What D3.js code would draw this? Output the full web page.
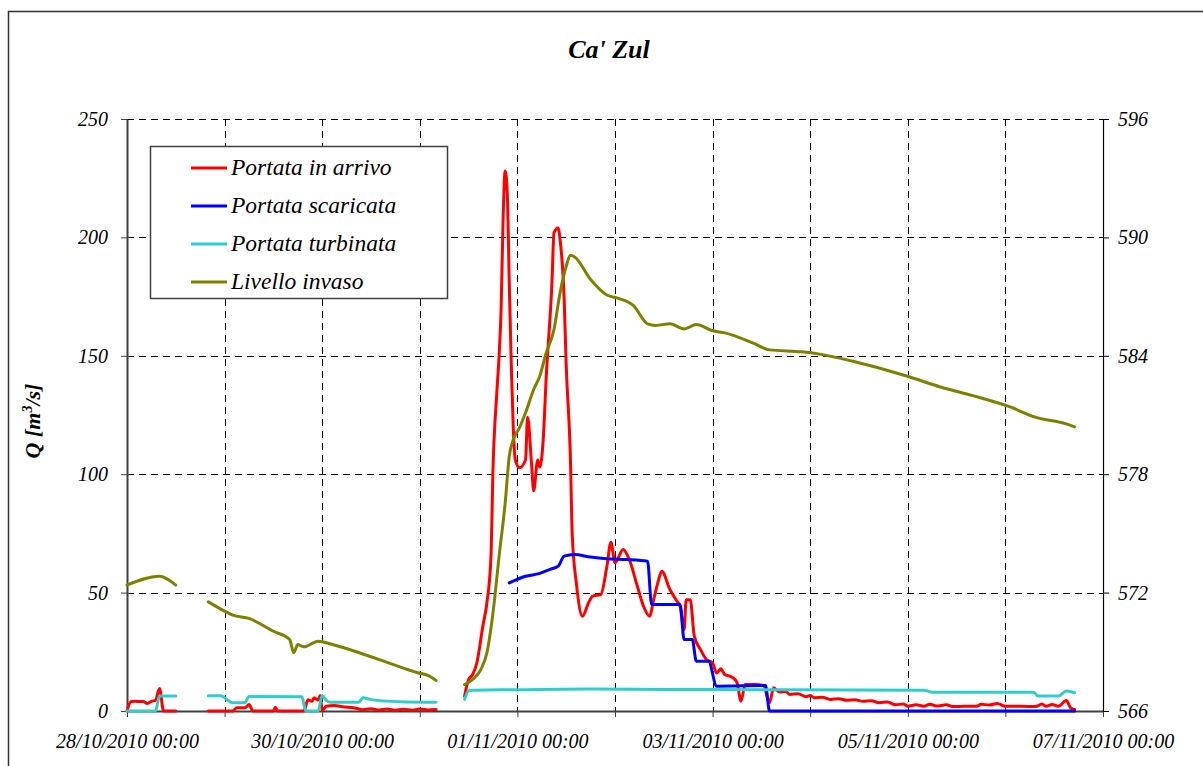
<!DOCTYPE html>
<html>
<head>
<meta charset="utf-8">
<script src="https://cdn.jsdelivr.net/npm/d3@7"></script>
<style>
  html, body { margin: 0; padding: 0; background: #fff; }
  svg { display: block; font-family: "Liberation Serif", "Times New Roman", serif; }
</style>
</head>
<body>
<div id="chart"></div>
<script>
// 0. data (time "MM-DD HH:MM" of 2010, value) ; null = gap in the record
const portataArrivo = [
  ["10-28 00:00", 0], ["10-28 01:00", 4.0], ["10-28 02:00", 4.1], ["10-28 03:00", 4.0], ["10-28 04:00", 4.0],
  ["10-28 05:00", 3.2], ["10-28 06:00", 4.1], ["10-28 07:00", 4.5], ["10-28 08:00", 9.5], ["10-28 09:00", 0],
  ["10-28 12:00", 0], ["10-28 16:00", null],
  ["10-28 20:00", 0], ["10-29 02:00", 0], ["10-29 03:00", 1.4], ["10-29 05:00", 1.4], ["10-29 06:00", 2.7],
  ["10-29 07:00", 0], ["10-29 12:00", 0], ["10-29 12:30", 1.6], ["10-29 13:00", 0], ["10-29 19:30", 0],
  ["10-29 20:30", 4.8], ["10-29 21:30", 4.1], ["10-29 22:00", 5.6], ["10-29 23:00", 4.6], ["10-29 23:30", 6.5],
  ["10-30 00:00", 0.2], ["10-30 01:00", 2.0], ["10-30 03:00", 2.3], ["10-30 05:00", 1.8], ["10-30 08:00", 1.3],
  ["10-30 10:00", 0.5], ["10-30 12:00", 0.9], ["10-30 14:00", 0.4], ["10-30 16:00", 0.8], ["10-30 18:00", 0.3],
  ["10-30 20:00", 0.7], ["10-30 22:00", 0.3], ["10-31 00:00", 0.8], ["10-31 02:00", 0.4], ["10-31 04:00", 0.6],
  ["10-31 07:00", null],
  ["10-31 11:00", 6.2], ["10-31 12:00", 13.3], ["10-31 13:00", 15.4], ["10-31 14:00", 20.1], ["10-31 15:30", 35.8],
  ["10-31 16:30", 45.6], ["10-31 17:30", 65.2], ["10-31 18:00", 102], ["10-31 19:00", 136], ["10-31 19:30", 150],
  ["10-31 20:00", 170], ["10-31 20:30", 209], ["10-31 21:00", 228], ["10-31 21:30", 219], ["10-31 22:00", 181],
  ["10-31 22:30", 146], ["10-31 23:00", 119], ["10-31 23:30", 106], ["11-01 00:30", 102.7], ["11-01 02:00", 106],
  ["11-01 02:30", 124], ["11-01 03:30", 104], ["11-01 04:00", 93], ["11-01 05:00", 106], ["11-01 05:30", 103],
  ["11-01 06:30", 119], ["11-01 07:00", 138], ["11-01 08:30", 181], ["11-01 09:00", 202], ["11-01 10:00", 204],
  ["11-01 10:30", 199], ["11-01 11:30", 174], ["11-01 12:00", 146], ["11-01 13:00", 109], ["11-01 13:30", 74],
  ["11-01 14:30", 54], ["11-01 16:00", 40], ["11-01 17:30", 45.7], ["11-01 18:30", 48.5], ["11-01 20:30", 49.2],
  ["11-01 22:00", 61], ["11-01 23:00", 71.3], ["11-02 00:00", 62.6], ["11-02 02:00", 68.2], ["11-02 03:30", 64],
  ["11-02 05:30", 52.7], ["11-02 07:00", 44.3], ["11-02 08:30", 40], ["11-02 09:30", 47], ["11-02 10:30", 54],
  ["11-02 11:30", 59], ["11-02 13:30", 51.3], ["11-02 15:00", 47], ["11-02 16:00", 44.3], ["11-02 17:00", 34.4],
  ["11-02 17:30", 47], ["11-02 18:30", 47], ["11-02 19:30", 31.6], ["11-02 21:00", 26], ["11-02 22:30", 21.7],
  ["11-03 00:00", 20.4], ["11-03 01:00", 16], ["11-03 02:00", 17.8], ["11-03 03:00", 15.4], ["11-03 04:30", 14.5],
  ["11-03 05:30", 13.3], ["11-03 06:00", 12], ["11-03 07:00", 4.1], ["11-03 08:00", 11.2], ["11-03 10:30", 11.2],
  ["11-03 12:30", 10.8], ["11-03 14:00", 3.5], ["11-03 15:00", 9.8], ["11-03 16:30", 8], ["11-03 18:00", 8.2],
  ["11-03 19:00", 7], ["11-03 21:00", 7.3], ["11-03 23:00", 6], ["11-04 00:00", 6.5], ["11-04 01:00", 5.6],
  ["11-04 03:00", 5.8], ["11-04 05:00", 4.9], ["11-04 07:00", 5.2], ["11-04 09:00", 4.5], ["11-04 11:00", 4.7],
  ["11-04 13:00", 4.1], ["11-04 15:00", 4.3], ["11-04 17:00", 3.5], ["11-04 19:00", 3.8], ["11-04 21:00", 2.6],
  ["11-04 23:00", 3.0], ["11-05 00:00", 2.0], ["11-05 02:00", 2.6], ["11-05 04:00", 2.0], ["11-05 05:30", 2.9],
  ["11-05 07:00", 2.1], ["11-05 09:30", 2.6], ["11-05 11:00", 1.9], ["11-05 14:00", 2.0], ["11-05 17:00", 2.0],
  ["11-05 18:00", 2.9], ["11-05 20:00", 2.5], ["11-05 22:00", 3.2], ["11-06 00:00", 2.0], ["11-06 04:00", 2.0],
  ["11-06 07:30", 1.9], ["11-06 09:00", 3.0], ["11-06 10:00", 2.0], ["11-06 11:30", 2.7], ["11-06 13:00", 2.0],
  ["11-06 15:00", 4.4], ["11-06 16:00", 1.4], ["11-06 17:00", 0.6]
];

const portataScaricata = [
  ["10-31 22:00", 54.1], ["11-01 02:00", 56.9], ["11-01 05:30", 58.1], ["11-01 08:00", 59.8], ["11-01 10:00", 61.1],
  ["11-01 11:30", 65.4], ["11-01 14:00", 66.1], ["11-01 18:00", 65], ["11-01 22:00", 64.3], ["11-02 03:00", 64],
  ["11-02 08:00", 63.3], ["11-02 09:00", 45], ["11-02 16:00", 45], ["11-02 17:00", 30.2], ["11-02 19:00", 30.2],
  ["11-02 20:00", 21], ["11-02 23:00", 21], ["11-03 01:00", 10.5], ["11-03 13:00", 10.8], ["11-03 14:00", 0],
  ["11-06 17:00", 0]
];

const portataTurbinata = [
  ["10-28 00:00", 0], ["10-28 07:00", 0], ["10-28 08:00", 6.3], ["10-28 12:00", 6.3], ["10-28 16:00", null],
  ["10-28 20:00", 6.4], ["10-28 23:00", 6.4], ["10-29 02:00", 3.5], ["10-29 05:00", 3.5], ["10-29 06:00", 6.1],
  ["10-29 19:00", 6.0], ["10-29 20:00", 0], ["10-29 23:00", 0], ["10-30 00:00", 6.5], ["10-30 01:00", 4.5],
  ["10-30 02:00", 3.7], ["10-30 09:00", 3.7], ["10-30 10:00", 5.6], ["10-30 12:00", 4.8], ["10-30 19:00", 3.9],
  ["10-31 04:00", 3.7], ["10-31 07:00", null],
  ["10-31 11:00", 4.9], ["10-31 12:00", 8.5], ["10-31 13:00", 8.8], ["11-01 00:00", 9.0], ["11-01 18:00", 9.3],
  ["11-02 12:00", 9.1], ["11-03 12:00", 9.0], ["11-05 04:00", 8.8], ["11-05 06:00", 7.9], ["11-06 07:00", 7.9],
  ["11-06 08:00", 6.3], ["11-06 13:00", 6.3], ["11-06 15:00", 8.4], ["11-06 17:00", 7.7]
];

const livelloInvaso = [
  ["10-28 00:00", 572.38], ["10-28 08:00", 572.83], ["10-28 12:00", 572.38], ["10-28 16:00", null],
  ["10-28 20:00", 571.53], ["10-29 00:00", 571.06], ["10-29 02:00", 570.86], ["10-29 06:00", 570.69],
  ["10-29 12:00", 570.04], ["10-29 16:00", 569.62], ["10-29 17:00", 568.95], ["10-29 18:00", 569.37],
  ["10-29 19:30", 569.25], ["10-29 23:00", 569.54], ["10-30 02:30", 569.37], ["10-30 08:00", 569.03],
  ["10-30 12:00", 568.75], ["10-30 17:00", 568.39], ["10-30 23:30", 567.94], ["10-31 02:00", 567.80],
  ["10-31 04:00", 567.55], ["10-31 07:00", null],
  ["10-31 11:00", 567.34], ["10-31 13:00", 567.6], ["10-31 15:00", 568.1], ["10-31 16:30", 568.95],
  ["10-31 18:00", 570.98], ["10-31 19:30", 573.85], ["10-31 21:00", 576.55], ["10-31 22:00", 578.91],
  ["10-31 23:00", 579.76], ["11-01 00:30", 580.35], ["11-01 02:00", 581.11], ["11-01 04:00", 582.29],
  ["11-01 05:30", 582.97], ["11-01 07:00", 584.1], ["11-01 09:00", 585.34], ["11-01 10:30", 587.2],
  ["11-01 12:00", 588.54], ["11-01 13:00", 589.09], ["11-01 14:00", 589.02], ["11-01 18:00", 587.87],
  ["11-01 22:00", 587.08], ["11-02 01:00", 586.9], ["11-02 04:30", 586.55], ["11-02 08:00", 585.62],
  ["11-02 10:00", 585.54], ["11-02 13:30", 585.62], ["11-02 17:00", 585.36], ["11-02 20:00", 585.58],
  ["11-03 00:00", 585.27], ["11-03 03:00", 585.16], ["11-03 10:00", 584.64], ["11-03 14:00", 584.3],
  ["11-03 22:00", 584.2], ["11-04 03:00", 584.06], ["11-04 10:30", 583.72], ["11-04 23:30", 582.99],
  ["11-05 08:00", 582.42], ["11-05 16:00", 581.98], ["11-06 01:00", 581.42], ["11-06 07:30", 580.88],
  ["11-06 15:00", 580.55], ["11-06 17:00", 580.4]
];

const leftTicks = [0, 50, 100, 150, 200, 250];
const rightTicks = [566, 572, 578, 584, 590, 596];
const timeStart = "10-28 00:00";
const timeEnd = "11-07 00:00";

const seriesInfo = [
  { name: "Portata in arrivo", data: portataArrivo, color: "#ff0000", axis: "left" },
  { name: "Portata scaricata", data: portataScaricata, color: "#0000ff", axis: "left" },
  { name: "Portata turbinata", data: portataTurbinata, color: "#33cccc", axis: "left" },
  { name: "Livello invaso", data: livelloInvaso, color: "#808000", axis: "right" }
];

// 1. canvas
const W = 1203, H = 766;
const plot = { left: 127, right: 1103, top: 119, bottom: 711 };
const serif = "'Liberation Serif', 'Times New Roman', serif";
const parseTime = d3.utcParse("%Y-%m-%d %H:%M");
const toDate = s => parseTime("2010-" + s);

const svg = d3.select("#chart").append("svg")
  .attr("width", W).attr("height", H);

svg.append("rect").attr("width", W).attr("height", H).attr("fill", "#fff");
// outer frame (runs off the right / bottom edge)
svg.append("rect")
  .attr("x", 8.5).attr("y", 11.5).attr("width", 1220).attr("height", 800)
  .attr("fill", "none").attr("stroke", "#333").attr("stroke-width", 1.5);

// 2. scales
const x = d3.scaleUtc().domain([toDate(timeStart), toDate(timeEnd)]).range([plot.left, plot.right]);
const yL = d3.scaleLinear().domain([0, 250]).range([plot.bottom, plot.top]);
const yR = d3.scaleLinear().domain([566, 596]).range([plot.bottom, plot.top]);

const days = d3.utcDay.range(toDate(timeStart), d3.utcDay.offset(toDate(timeEnd), 1));

// 3. grid
const grid = svg.append("g").attr("stroke", "#000").attr("stroke-width", 1).attr("stroke-dasharray", "7,5");
leftTicks.slice(1).forEach(v => {
  grid.append("line")
    .attr("x1", plot.left).attr("x2", plot.right)
    .attr("y1", Math.round(yL(v)) + 0.5).attr("y2", Math.round(yL(v)) + 0.5);
});
days.slice(1, -1).forEach(d => {
  grid.append("line")
    .attr("x1", Math.round(x(d)) + 0.5).attr("x2", Math.round(x(d)) + 0.5)
    .attr("y1", plot.top).attr("y2", plot.bottom);
});

// 4. axes
const fmt = d3.utcFormat("%d/%m/%Y %H:%M");
const xAxis = d3.axisBottom(x).tickValues(days).tickSize(6).tickSizeOuter(0)
  .tickFormat((d, i) => i % 2 ? "" : fmt(d));
const gx = svg.append("g").attr("transform", `translate(0,${plot.bottom})`).call(xAxis);
gx.select(".domain").attr("stroke", "#404040").attr("stroke-width", 2);
gx.selectAll(".tick line").attr("stroke", "#404040");
gx.selectAll("text").attr("y", 37).attr("dy", 0);

const gl = svg.append("g").attr("transform", `translate(${plot.left},0)`)
  .call(d3.axisLeft(yL).tickValues(leftTicks).tickSize(6).tickSizeOuter(0).tickPadding(13));
gl.select(".domain").attr("stroke", "#404040").attr("stroke-width", 2);
gl.selectAll(".tick line").attr("stroke", "#404040");

const gr = svg.append("g").attr("transform", `translate(${plot.right},0)`)
  .call(d3.axisRight(yR).tickValues(rightTicks).tickSize(6).tickSizeOuter(0).tickPadding(9));
gr.select(".domain").attr("stroke", "#000").attr("stroke-width", 1.2);
gr.selectAll(".tick line").attr("stroke", "#000");

[gx, gl, gr].forEach(g => {
  g.attr("font-family", serif).attr("font-size", 20);
  g.selectAll("text").attr("fill", "#000").style("font-style", "italic");
});

// 5. series
seriesInfo.forEach(s => {
  const yS = s.axis === "left" ? yL : yR;
  const pts = s.data.map(d => ({ date: toDate(d[0]), value: d[1] }));
  const line = d3.line()
    .defined(d => d.value !== null)
    .x(d => x(d.date))
    .y(d => yS(d.value))
    .curve(d3.curveMonotoneX);
  svg.append("path")
    .datum(pts)
    .attr("d", line)
    .attr("fill", "none")
    .attr("stroke", s.color)
    .attr("stroke-width", 3)
    .attr("stroke-linejoin", "round")
    .attr("stroke-linecap", "round");
});

// 6. titles
svg.append("text")
  .attr("x", 609).attr("y", 57.5).attr("text-anchor", "middle")
  .style("font-size", "26px").style("font-weight", "bold").style("font-style", "italic")
  .text("Ca' Zul");

const yt = svg.append("text")
  .attr("transform", "translate(40,421) rotate(-90)")
  .attr("text-anchor", "middle")
  .style("font-size", "22px").style("font-weight", "bold").style("font-style", "italic");
yt.append("tspan").text("Q [m");
yt.append("tspan").attr("dy", -8).style("font-size", "14px").text("3");
yt.append("tspan").attr("dy", 8).text("/s]");

// 7. legend
const legend = svg.append("g");
legend.append("rect")
  .attr("x", 150.5).attr("y", 146.5).attr("width", 297).attr("height", 152)
  .attr("fill", "#fff").attr("stroke", "#404040").attr("stroke-width", 1.5);
seriesInfo.forEach((s, i) => {
  const ly = 168 + i * 38;
  legend.append("line")
    .attr("x1", 191).attr("x2", 227).attr("y1", ly).attr("y2", ly)
    .attr("stroke", s.color).attr("stroke-width", 3);
  legend.append("text")
    .attr("x", 231).attr("y", ly + 7)
    .style("font-size", "23.5px").style("font-style", "italic")
    .text(s.name);
});
</script>
</body>
</html>
